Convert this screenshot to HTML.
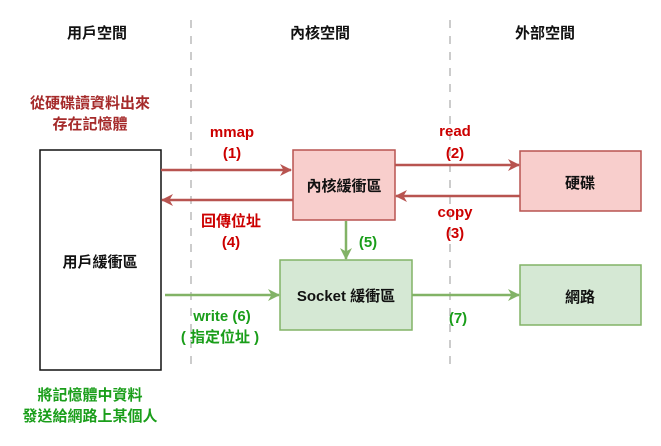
<!DOCTYPE html>
<html><head><meta charset="utf-8"><style>
body{margin:0;background:#fff;}
svg text{font-family:"Liberation Sans","Noto Sans CJK TC",sans-serif;font-weight:bold;text-anchor:middle;}
</style></head><body>
<svg width="661" height="441" viewBox="0 0 661 441" xmlns="http://www.w3.org/2000/svg">
<defs>
<marker id="ar" markerWidth="12" markerHeight="12" refX="11" refY="6" orient="auto" markerUnits="userSpaceOnUse"><path d="M0,0 L12,6 L0,12 L3.5,6 Z" fill="#b85450"/></marker>
<marker id="ag" markerWidth="12" markerHeight="12" refX="11" refY="6" orient="auto" markerUnits="userSpaceOnUse"><path d="M0,0 L12,6 L0,12 L3.5,6 Z" fill="#82b366"/></marker>
</defs>
<line x1="191" y1="20" x2="191" y2="372" stroke="#ccc" stroke-width="2" stroke-dasharray="8,8"/>
<line x1="450" y1="20" x2="450" y2="372" stroke="#ccc" stroke-width="2" stroke-dasharray="8,8"/>
<g font-size="15" fill="#111">
<text x="97" y="38">用戶空間</text><text x="320" y="38">內核空間</text><text x="545" y="38">外部空間</text>
</g>
<rect x="40" y="150" width="121" height="220" fill="#fff" stroke="#111" stroke-width="1.5"/>
<rect x="293" y="150" width="102" height="70" fill="#f8cecc" stroke="#b85450" stroke-width="1.5"/>
<rect x="520" y="151" width="121" height="60" fill="#f8cecc" stroke="#b85450" stroke-width="1.5"/>
<rect x="280" y="260" width="132" height="70" fill="#d5e8d4" stroke="#82b366" stroke-width="1.5"/>
<rect x="520" y="265" width="121" height="60" fill="#d5e8d4" stroke="#82b366" stroke-width="1.5"/>
<g font-size="15" fill="#111">
<text x="100" y="267">用戶緩衝區</text>
<text x="344" y="191">內核緩衝區</text>
<text x="580" y="188">硬碟</text>
<text x="346" y="301">Socket 緩衝區</text>
<text x="580" y="302">網路</text>
</g>
<g stroke="#b85450" stroke-width="2.5" fill="none">
<line x1="161" y1="170" x2="291" y2="170" marker-end="url(#ar)"/>
<line x1="293" y1="200" x2="162" y2="200" marker-end="url(#ar)"/>
<line x1="395" y1="165" x2="519" y2="165" marker-end="url(#ar)"/>
<line x1="520" y1="196" x2="396" y2="196" marker-end="url(#ar)"/>
</g>
<g stroke="#82b366" stroke-width="2.5" fill="none">
<line x1="346" y1="221" x2="346" y2="259" marker-end="url(#ag)"/>
<line x1="165" y1="295" x2="279" y2="295" marker-end="url(#ag)"/>
<line x1="412" y1="295" x2="519" y2="295" marker-end="url(#ag)"/>
</g>
<g font-size="15" fill="#cc0000">
<text x="232" y="137">mmap</text><text x="232" y="158">(1)</text>
<text x="231" y="226">回傳位址</text><text x="231" y="247">(4)</text>
<text x="455" y="136">read</text><text x="455" y="158">(2)</text>
<text x="455" y="217">copy</text><text x="455" y="238">(3)</text>
</g>
<g font-size="15" fill="#a52a2a">
<text x="90" y="108">從硬碟讀資料出來</text><text x="90" y="129">存在記憶體</text>
</g>
<g font-size="15" fill="#1a9e1a">
<text x="368" y="247">(5)</text>
<text x="222" y="321">write (6)</text><text x="220" y="342">( 指定位址 )</text>
<text x="458" y="323">(7)</text>
<text x="90" y="400">將記憶體中資料</text><text x="90" y="421">發送給網路上某個人</text>
</g>
</svg>
</body></html>
